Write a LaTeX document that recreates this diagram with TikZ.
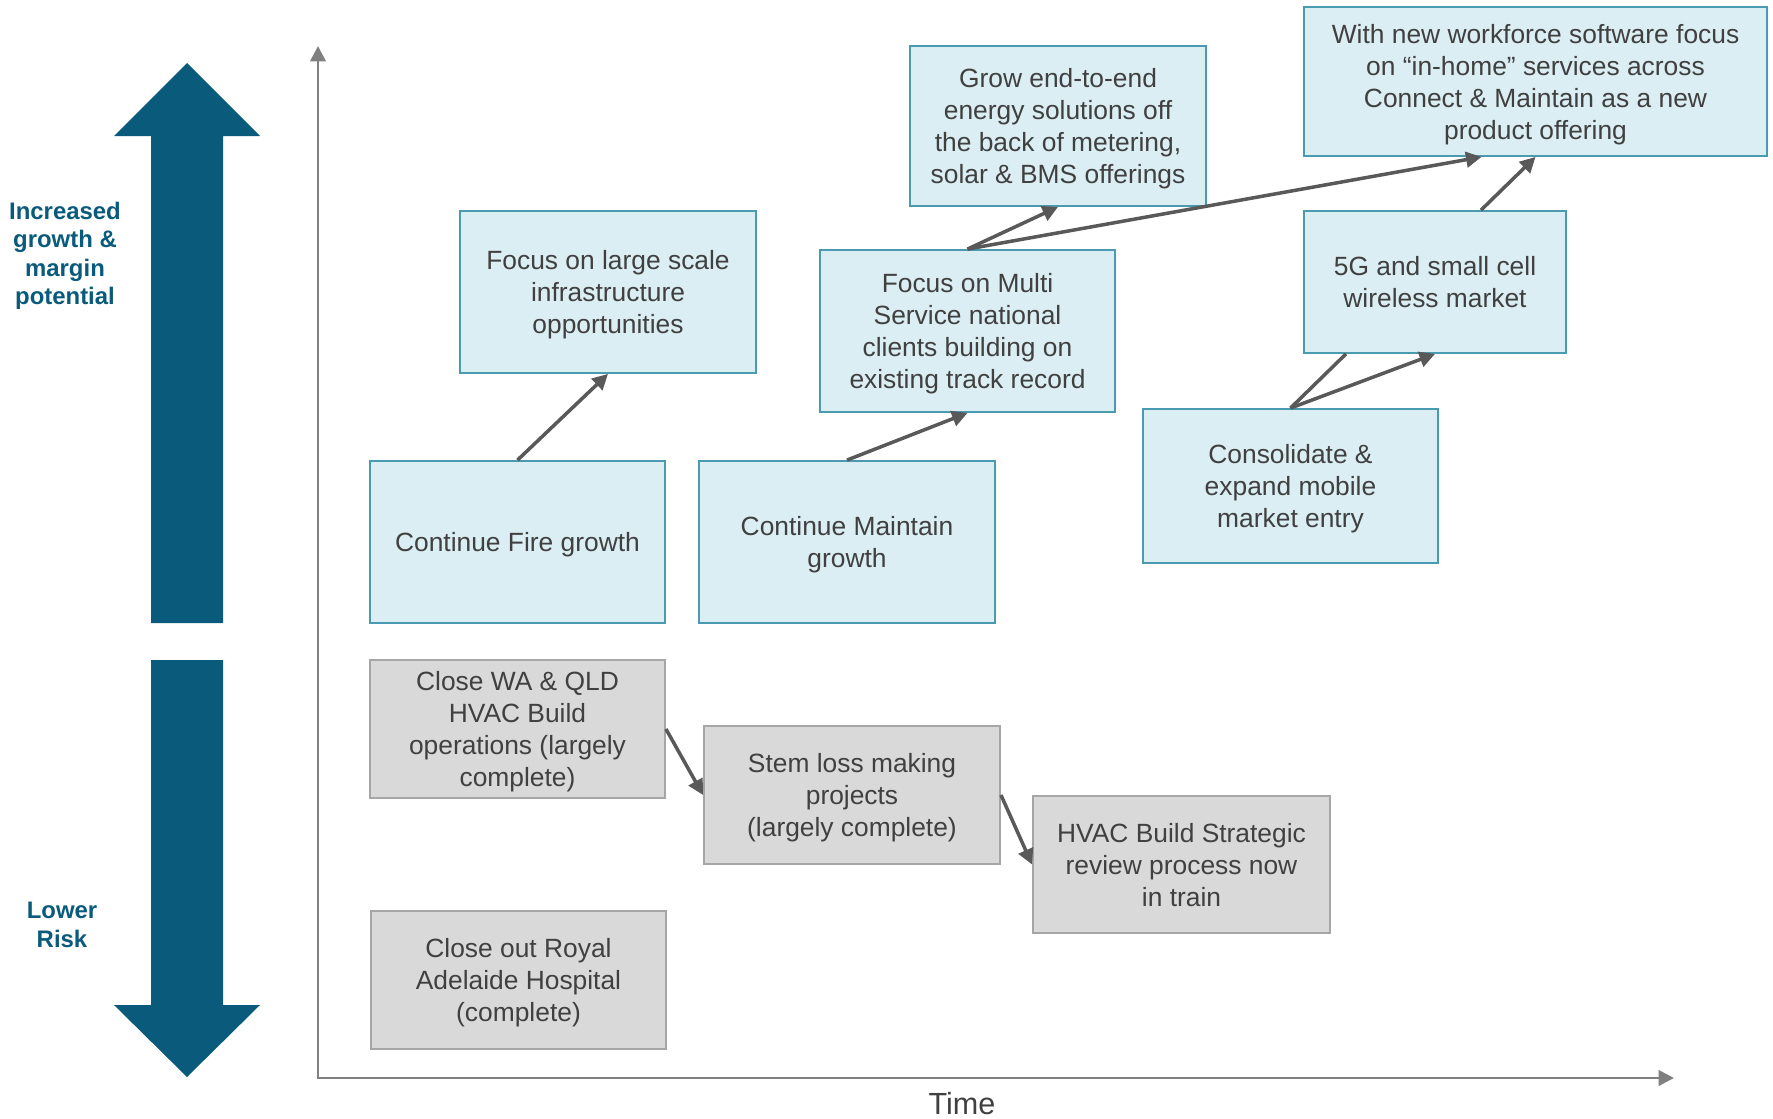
\documentclass[tikz,border=0pt]{standalone}
\usepackage{fontspec}
\setmainfont{Liberation Sans}
\usetikzlibrary{positioning,arrows.meta}

\definecolor{teal}{RGB}{10,90,124}
\definecolor{boxfill}{RGB}{219,238,244}
\definecolor{boxline}{RGB}{74,155,176}
\definecolor{exitfill}{RGB}{217,217,217}
\definecolor{exitline}{RGB}{166,166,166}
\definecolor{arrowgray}{RGB}{89,89,89}
\definecolor{axisgray}{RGB}{128,128,128}
\definecolor{txt}{RGB}{64,64,64}

\begin{document}
\begin{tikzpicture}[x=0.01cm, y=-0.01cm,
    growbox/.style={draw=boxline, fill=boxfill, line width=0.5pt, text=txt, align=center, inner sep=0pt,
      font=\fontsize{7.5}{9.1}\selectfont, text depth=-0.6pt},
    exitbox/.style={growbox, draw=exitline, fill=exitfill},
    flow/.style={draw=arrowgray, line width=1pt, -{Triangle[length=4.4pt,width=4.4pt]}},
    flowline/.style={draw=arrowgray, line width=1pt},
    sidelabel/.style={text=teal, align=center, font=\bfseries\fontsize{6.8}{8.1}\selectfont}]
  \useasboundingbox (0,0) rectangle (1773,1118);

  % big up / down arrows
  \fill[teal] (151,623) -- (151,136) -- (114,136) -- (187,63) -- (260,136) -- (223,136) -- (223,623) -- cycle;
  \fill[teal] (151,660) -- (151,1005) -- (114,1005) -- (187,1077) -- (260,1005) -- (223,1005) -- (223,660) -- cycle;
  \node[sidelabel] (uplabel) at (65,256) {Increased\\growth \&\\margin\\potential};
  \node[sidelabel] (downlabel) at (62,925) {Lower\\Risk};

  % axes
  \coordinate (origin) at (318,1078);
  \coordinate (ytop) at (318,46);
  \coordinate (xend) at (1674,1078);
  \draw[axisgray, line width=0.8pt, {Triangle[length=4.4pt,width=4.4pt]}-{Triangle[length=4.4pt,width=4.4pt]}] (ytop) -- (origin) -- (xend);
  \node[text=txt, font=\fontsize{8.7}{10}\selectfont] (time) at (962,1104) {Time};

  % growth boxes
  \node[growbox, minimum width=2.95cm, minimum height=1.62cm] (fire) at (517.5,542) {Continue Fire growth};
  \node[growbox, minimum width=2.96cm, minimum height=1.62cm] (maintain) at (847,542) {Continue Maintain\\growth};
  \node[growbox, minimum width=2.96cm, minimum height=1.62cm] (infra) at (608,292) {Focus on large scale\\infrastructure\\opportunities};
  \node[growbox, minimum width=2.95cm, minimum height=1.62cm] (multi) at (967.5,331) {Focus on Multi\\Service national\\clients building on\\existing track record};
  \node[growbox, minimum width=2.96cm, minimum height=1.60cm] (energy) at (1058,126) {Grow end-to-end\\energy solutions off\\the back of metering,\\solar \& BMS offerings};
  \node[growbox, minimum width=4.63cm, minimum height=1.49cm] (workforce) at (1535.5,81.5) {With new workforce software focus\\on “in-home” services across\\Connect \& Maintain as a new\\product offering};
  \node[growbox, minimum width=2.62cm, minimum height=1.42cm] (fiveg) at (1435,282) {5G and small cell\\wireless market};
  \node[growbox, minimum width=2.95cm, minimum height=1.54cm] (mobile) at (1290.5,486) {Consolidate \&\\expand mobile\\market entry};

  % exit boxes
  \node[exitbox, minimum width=2.95cm, minimum height=1.38cm] (hvac) at (517.5,729) {Close WA \& QLD\\HVAC Build\\operations (largely\\complete)};
  \node[exitbox, minimum width=2.96cm, minimum height=1.38cm] (stem) at (852,795) {Stem loss making\\projects\\(largely complete)};
  \node[exitbox, minimum width=2.97cm, minimum height=1.37cm] (review) at (1181.5,864.5) {HVAC Build Strategic\\review process now\\in train};
  \node[exitbox, minimum width=2.95cm, minimum height=1.38cm] (royal) at (518.5,980) {Close out Royal\\Adelaide Hospital\\(complete)};

  % connectors
  \draw[flow] (fire.north) -- (infra.south);
  \draw[flow] (maintain.north) -- (multi.south);
  \draw[flow] (multi.north) -- (energy.south);
  \draw[flow] (multi.north) -- ([xshift=-0.54cm]workforce.south);
  \draw[flow] ([xshift=0.46cm]fiveg.north) -- (workforce.south);
  \draw[flowline] (mobile.north) -- ([xshift=-0.89cm]fiveg.south);
  \draw[flow] (mobile.north) -- (fiveg.south);
  \draw[flow] (hvac.east) -- (stem.west);
  \draw[flow] (stem.east) -- (review.west);
\end{tikzpicture}
\end{document}
